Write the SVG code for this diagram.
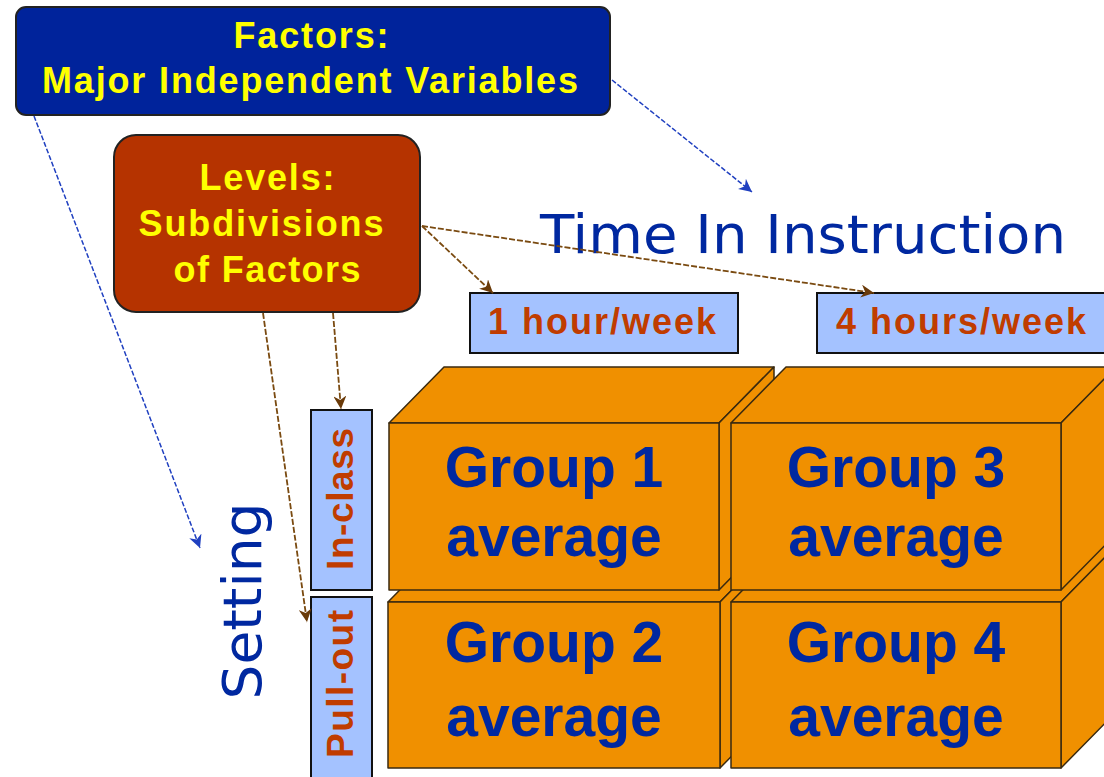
<svg xmlns="http://www.w3.org/2000/svg" width="1104" height="777" viewBox="0 0 1104 777">
<style>
.yl{fill:#FFFF00;font-family:"Liberation Sans",Arial,sans-serif;font-weight:bold;font-size:36px;text-anchor:middle}
.lv{fill:#A4C2FF;stroke:#111;stroke-width:2}
.lvt{fill:#C03C00;font-family:"Liberation Sans",Arial,sans-serif;font-weight:bold;font-size:36px}
.big{fill:#0028A0;font-family:"DejaVu Sans",Verdana,sans-serif;font-size:54px}
.cube{fill:#F09000;stroke:#3a2a10;stroke-width:1.5;stroke-linejoin:round}
.gt{fill:#0028A0;font-family:"Liberation Sans",Arial,sans-serif;font-weight:bold;font-size:57px;text-anchor:middle}
.cb{fill:none;stroke:#2040C0;stroke-width:1.5;stroke-dasharray:5 2}
.cr{fill:none;stroke:#7A4A10;stroke-width:1.8;stroke-dasharray:6 2}
</style>
<defs>
<marker id="ab" viewBox="0 0 10 10" refX="10" refY="5" markerWidth="13" markerHeight="13" markerUnits="userSpaceOnUse" orient="auto">
<path d="M0,0 L10,5 L0,10 L3,5 z" fill="#2040C0"/>
</marker>
<marker id="ar" viewBox="0 0 10 10" refX="10" refY="5" markerWidth="13" markerHeight="13" markerUnits="userSpaceOnUse" orient="auto">
<path d="M0,0 L10,5 L0,10 L3,5 z" fill="#6A3A08"/>
</marker>
</defs>
<rect width="1104" height="777" fill="#fff"/>

<g id="factors">
<rect x="16" y="7" width="594" height="108" rx="10" fill="#00239B" stroke="#222" stroke-width="2"/>
<text class="yl" x="311" y="48" textLength="155" lengthAdjust="spacing">Factors:</text>
<text class="yl" x="310" y="93" textLength="536" lengthAdjust="spacing">Major Independent Variables</text>
</g>

<g id="levels">
<rect x="114" y="135" width="306" height="177" rx="22" fill="#B53300" stroke="#222" stroke-width="2"/>
<text class="yl" x="267" y="190" textLength="135" lengthAdjust="spacing">Levels:</text>
<text class="yl" x="261" y="236" textLength="245" lengthAdjust="spacing">Subdivisions</text>
<text class="yl" x="267" y="282" textLength="187" lengthAdjust="spacing">of Factors</text>
</g>

<g id="time-label">
<text class="big" x="540" y="253" textLength="526" lengthAdjust="spacingAndGlyphs">Time In Instruction</text>
</g>

<g id="setting-label">
<text class="big" transform="translate(261,601) rotate(-90)" text-anchor="middle" textLength="197" lengthAdjust="spacingAndGlyphs">Setting</text>
</g>

<g id="hour1">
<rect class="lv" x="470" y="293" width="268" height="60"/>
<text class="lvt" x="488" y="334" textLength="228" lengthAdjust="spacing">1 hour/week</text>
</g>

<g id="hour4">
<rect class="lv" x="817" y="293" width="300" height="60"/>
<text class="lvt" x="836" y="334" textLength="250" lengthAdjust="spacing">4 hours/week</text>
</g>

<g id="inclass">
<rect class="lv" x="311" y="410" width="61" height="180"/>
<text class="lvt" transform="translate(353,499) rotate(-90)" text-anchor="middle" style="font-size:37px" textLength="142" lengthAdjust="spacing">In-class</text>
</g>

<g id="pullout">
<rect class="lv" x="311" y="597" width="61" height="195"/>
<text class="lvt" transform="translate(353,684) rotate(-90)" text-anchor="middle" style="font-size:37px" textLength="148" lengthAdjust="spacing">Pull-out</text>
</g>

<g id="group2">
<polygon class="cube" points="388,602 443,546 775,546 720,602"/>
<polygon class="cube" points="720,602 775,546 775,712 720,768"/>
<rect class="cube" x="388" y="602" width="332" height="166"/>
<text class="gt" x="554" y="662">Group 2</text>
<text class="gt" x="554" y="736">average</text>
</g>

<g id="group4">
<polygon class="cube" points="731,602 786,546 1116,546 1061,602"/>
<polygon class="cube" points="1061,602 1116,546 1116,712 1061,768"/>
<rect class="cube" x="731" y="602" width="330" height="166"/>
<text class="gt" x="896" y="662">Group 4</text>
<text class="gt" x="896" y="736">average</text>
</g>

<g id="group1">
<polygon class="cube" points="389,423 444,367 774,367 719,423"/>
<polygon class="cube" points="719,423 774,367 774,534 719,590"/>
<rect class="cube" x="389" y="423" width="330" height="167"/>
<text class="gt" x="554" y="487">Group 1</text>
<text class="gt" x="554" y="556">average</text>
</g>

<g id="group3">
<polygon class="cube" points="731,423 786,367 1116,367 1061,423"/>
<polygon class="cube" points="1061,423 1116,367 1116,534 1061,590"/>
<rect class="cube" x="731" y="423" width="330" height="167"/>
<text class="gt" x="896" y="487">Group 3</text>
<text class="gt" x="896" y="556">average</text>
</g>

<g id="connectors">
<path class="cb" d="M34,116 L200,548" marker-end="url(#ab)"/>
<path class="cb" d="M612,80 L752,192" marker-end="url(#ab)"/>
<path class="cr" d="M422,226 L493,293" marker-end="url(#ar)"/>
<path class="cr" d="M422,226 L874,293" marker-end="url(#ar)"/>
<path class="cr" d="M333,313 L341,409" marker-end="url(#ar)"/>
<path class="cr" d="M263,313 L307,622" marker-end="url(#ar)"/>
</g>
</svg>
